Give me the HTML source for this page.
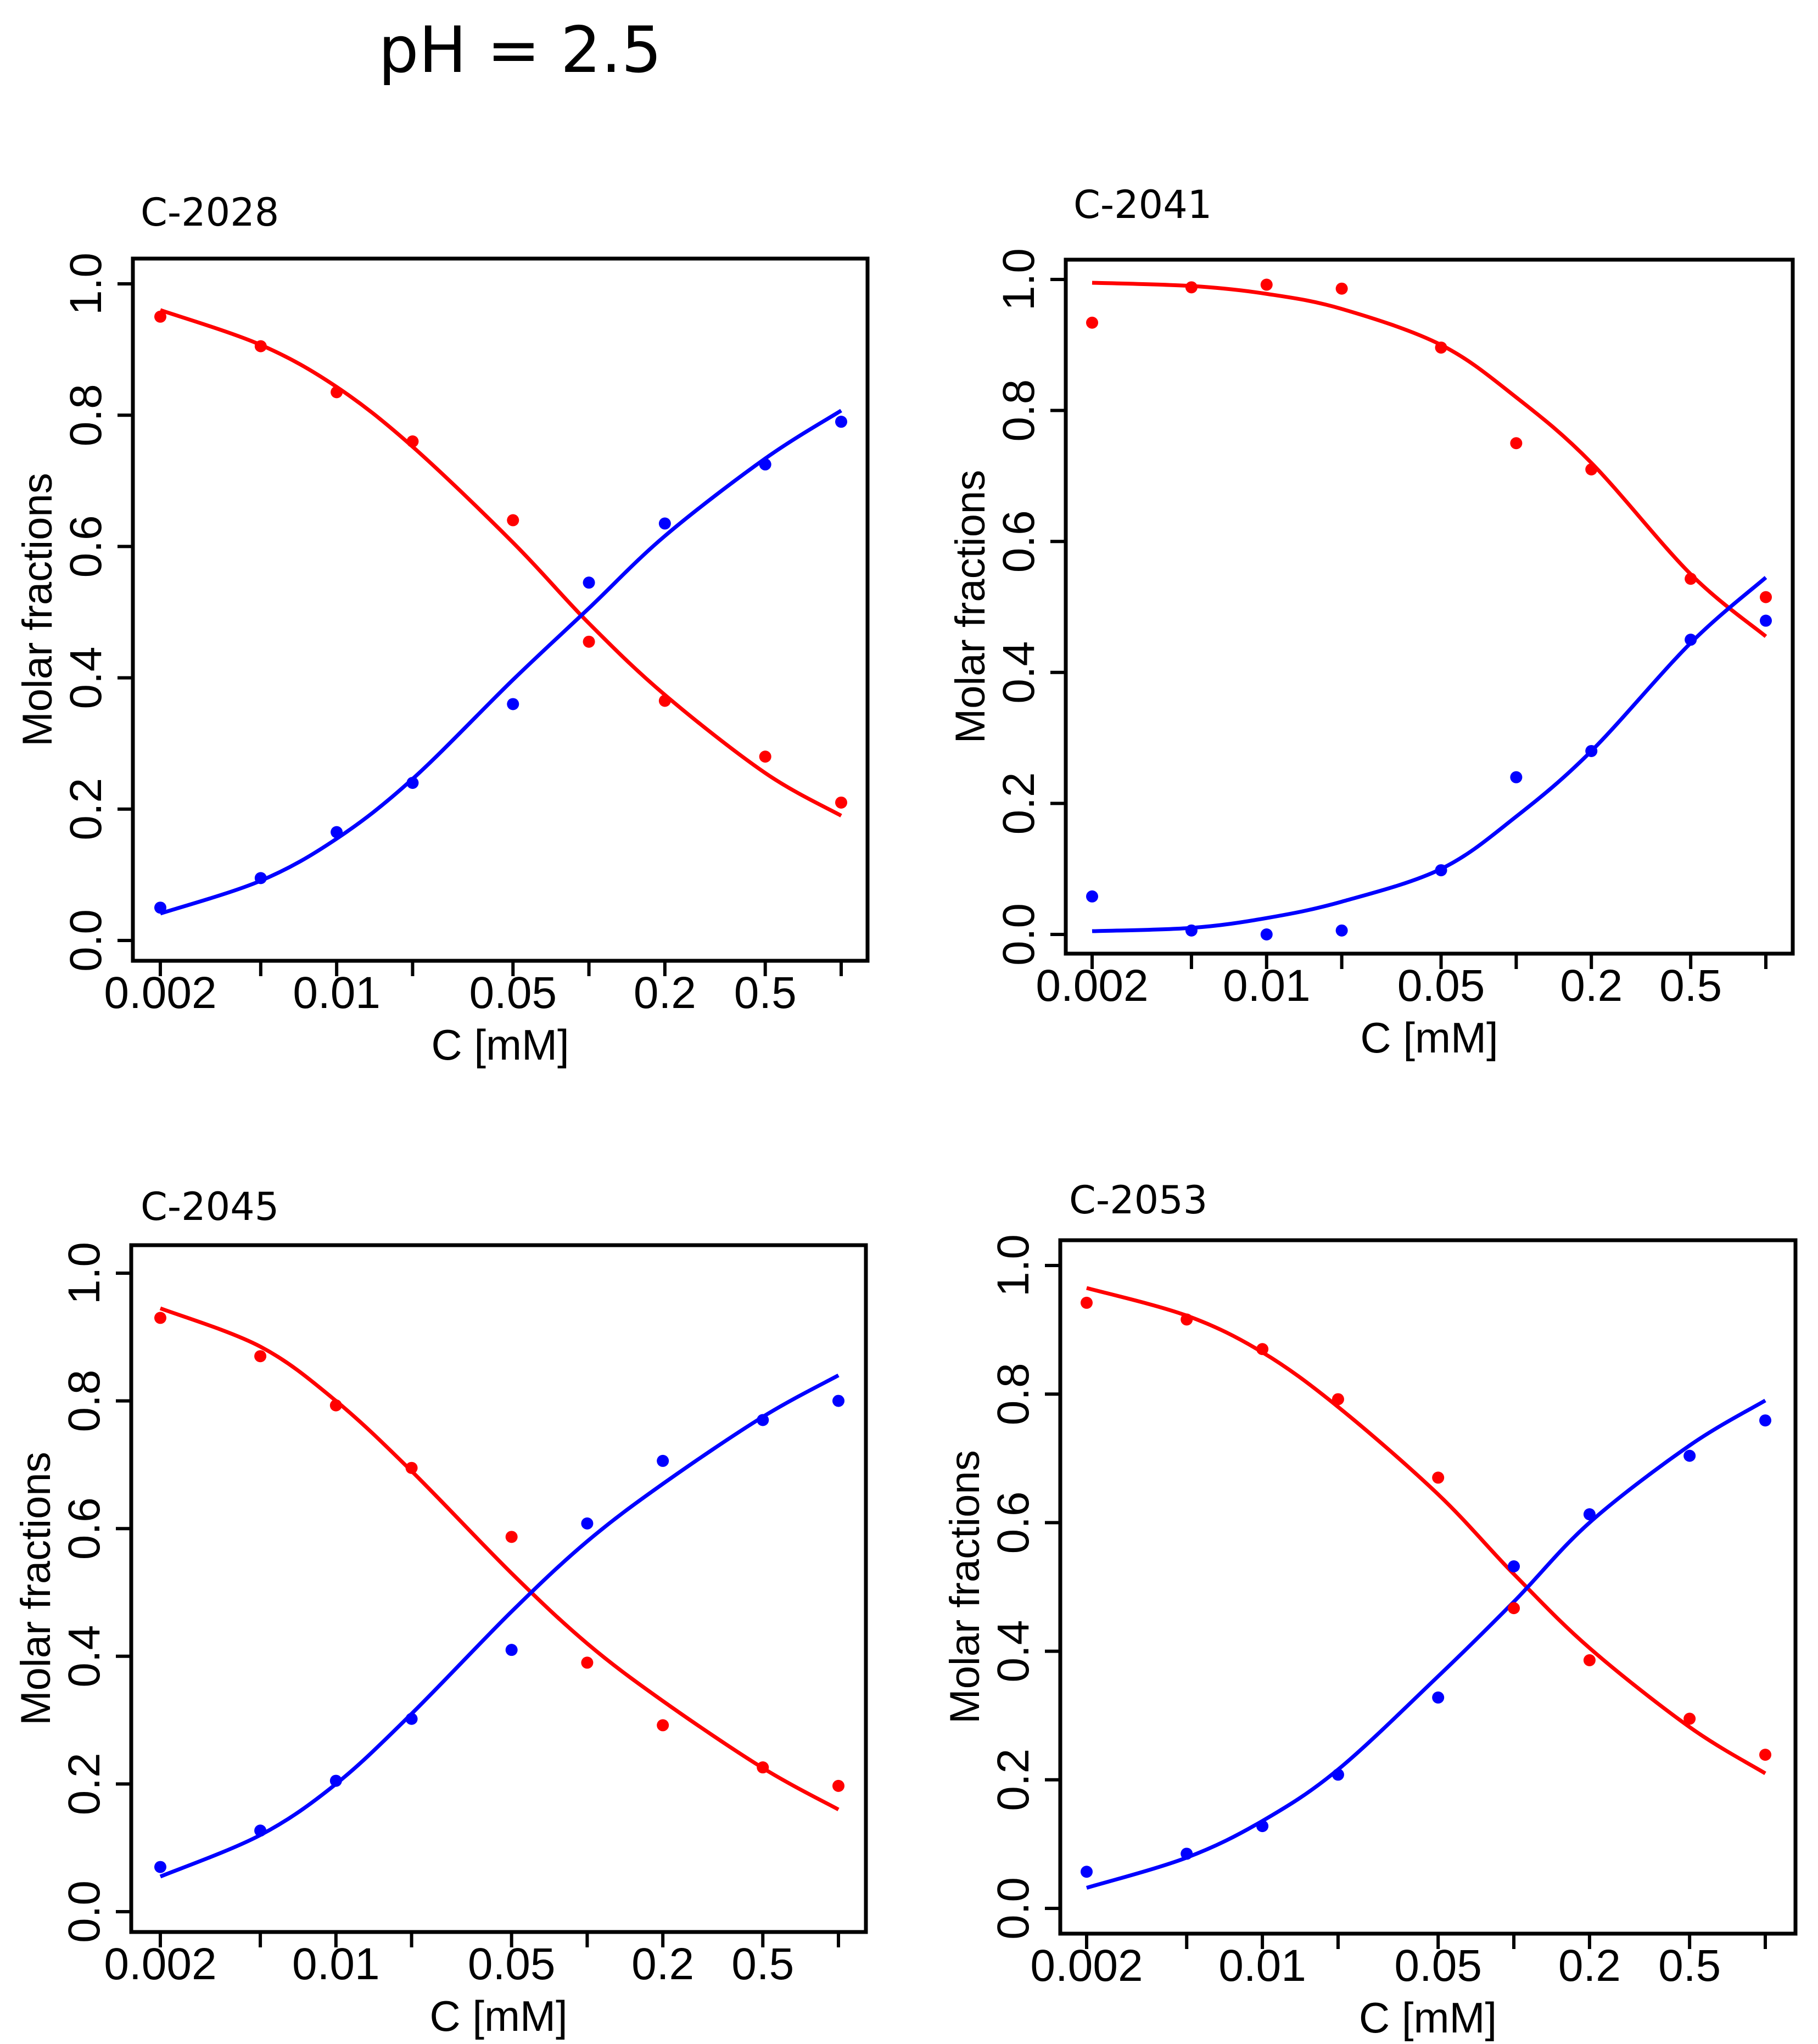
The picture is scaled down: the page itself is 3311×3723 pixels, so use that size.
<!DOCTYPE html>
<html><head><meta charset="utf-8"><style>
html,body{margin:0;padding:0;background:#fff;}
svg{display:block;}
text{font-family:"Liberation Sans",sans-serif;fill:#000;}
.ttl{font-family:"DejaVu Sans","Liberation Sans",sans-serif;}
</style></head><body>
<svg id="fig" width="3311" height="3723" viewBox="0 0 3311 3723" xmlns="http://www.w3.org/2000/svg">
<text class="ttl" x="689" y="131" font-size="116">pH = 2.5</text>
</svg>
<script>
const concentrations = [0.002, 0.005, 0.01, 0.02, 0.05, 0.1, 0.2, 0.5, 1];
const xTickLabels = ["0.002", "", "0.01", "", "0.05", "", "0.2", "0.5", ""];
const yTicks = [0, 0.2, 0.4, 0.6, 0.8, 1.0];
const yTickLabels = ["0.0", "0.2", "0.4", "0.6", "0.8", "1.0"];
const panelNames = ["C-2028", "C-2041", "C-2045", "C-2053"];

const redPts2028 = [0.95, 0.905, 0.835, 0.76, 0.64, 0.455, 0.365, 0.28, 0.21];
const bluePts2028 = [0.05, 0.095, 0.165, 0.24, 0.36, 0.545, 0.635, 0.725, 0.79];
const redFit2028 = [0.96, 0.907, 0.843, 0.752, 0.606, 0.483, 0.374, 0.255, 0.19];
const blueFit2028 = [0.041, 0.091, 0.155, 0.246, 0.397, 0.506, 0.616, 0.734, 0.807];

const redPts2041 = [0.934, 0.988, 0.992, 0.986, 0.896, 0.75, 0.71, 0.543, 0.515];
const bluePts2041 = [0.058, 0.006, 0.0, 0.006, 0.098, 0.24, 0.28, 0.45, 0.479];
const redFit2041 = [0.995, 0.99, 0.978, 0.955, 0.9, 0.82, 0.72, 0.55, 0.455];
const blueFit2041 = [0.005, 0.01, 0.025, 0.05, 0.1, 0.18, 0.28, 0.445, 0.545];

const redPts2045 = [0.93, 0.87, 0.793, 0.695, 0.587, 0.39, 0.292, 0.226, 0.197];
const bluePts2045 = [0.07, 0.127, 0.205, 0.302, 0.41, 0.608, 0.706, 0.77, 0.80];
const redFit2045 = [0.945, 0.885, 0.8, 0.69, 0.53, 0.42, 0.33, 0.225, 0.16];
const blueFit2045 = [0.055, 0.12, 0.2, 0.31, 0.47, 0.58, 0.67, 0.775, 0.84];

const redPts2053 = [0.942, 0.916, 0.870, 0.792, 0.670, 0.467, 0.386, 0.295, 0.239];
const bluePts2053 = [0.057, 0.085, 0.128, 0.208, 0.328, 0.532, 0.613, 0.704, 0.759];
const redFit2053 = [0.965, 0.922, 0.865, 0.78, 0.644, 0.52, 0.405, 0.282, 0.21];
const blueFit2053 = [0.032, 0.079, 0.136, 0.216, 0.361, 0.477, 0.60, 0.72, 0.79];

const NS = "http://www.w3.org/2000/svg";
const svg = document.getElementById("fig");
function mk(tag, attrs, parent) {
  const e = document.createElementNS(NS, tag);
  for (const k in attrs) e.setAttribute(k, attrs[k]);
  (parent || svg).appendChild(e);
  return e;
}

const layouts = [
  {L:242, T:471, R:1580, B:1750, xa:292, xb:1532, y0:1713, y1:517, lx:256, ly:411},
  {L:1941, T:473, R:3265, B:1737, xa:1989, xb:3216, y0:1702, y1:509, lx:1955, ly:397},
  {L:239, T:2268, R:1577, B:3519, xa:292, xb:1527, y0:3482, y1:2319, lx:256, ly:2222},
  {L:1931, T:2259, R:3270, B:3522, xa:1979, xb:3215, y0:3476, y1:2305, lx:1947, ly:2210}
];
const series = [
  [redPts2028, bluePts2028, redFit2028, blueFit2028],
  [redPts2041, bluePts2041, redFit2041, blueFit2041],
  [redPts2045, bluePts2045, redFit2045, blueFit2045],
  [redPts2053, bluePts2053, redFit2053, blueFit2053]
];

function curvePath(pts) {
  let d = "M" + pts[0][0] + "," + pts[0][1];
  for (let i = 0; i < pts.length - 1; i++) {
    const p0 = pts[Math.max(0, i - 1)], p1 = pts[i], p2 = pts[i + 1], p3 = pts[Math.min(pts.length - 1, i + 2)];
    const c1x = p1[0] + (p2[0] - p0[0]) / 6, c1y = p1[1] + (p2[1] - p0[1]) / 6;
    const c2x = p2[0] - (p3[0] - p1[0]) / 6, c2y = p2[1] - (p3[1] - p1[1]) / 6;
    d += " C" + c1x + "," + c1y + " " + c2x + "," + c2y + " " + p2[0] + "," + p2[1];
  }
  return d;
}

layouts.forEach((P, pi) => {
  const lmin = Math.log10(concentrations[0]), lmax = Math.log10(concentrations[concentrations.length - 1]);
  const xs = c => P.xa + (Math.log10(c) - lmin) / (lmax - lmin) * (P.xb - P.xa);
  const ys = v => P.y0 + v * (P.y1 - P.y0);
  const g = mk("g", {});
  
  

  const lab = mk("text", {x: P.lx, y: P.ly, "font-size": 70, class: "ttl"}, g);
  lab.textContent = panelNames[pi];
  
  

  const fr = mk("rect", {x: P.L, y: P.T, width: P.R - P.L, height: P.B - P.T, fill: "none", stroke: "#000", "stroke-width": 7}, g);
  
  

  const ya = mk("g", {}, g);
  
  
  yTicks.forEach((v, i) => {
    const tk = mk("line", {x1: P.L - 28, x2: P.L, y1: ys(v), y2: ys(v), stroke: "#000", "stroke-width": 6}, ya);
    
    
    const t = mk("text", {x: 0, y: 0, "font-size": 82, "text-anchor": "middle", transform: "translate(" + (P.L - 58) + "," + ys(v) + ") rotate(-90)"}, ya);
    t.textContent = yTickLabels[i];
    
    
  });
  const yt = mk("text", {x: 0, y: 0, "font-size": 76, "text-anchor": "middle", transform: "translate(" + (P.L - 148) + "," + ((P.T + P.B) / 2) + ") rotate(-90)"}, g);
  yt.textContent = "Molar fractions";
  
  

  const xa = mk("g", {}, g);
  
  
  concentrations.forEach((c, i) => {
    const tk = mk("line", {x1: xs(c), x2: xs(c), y1: P.B, y2: P.B + 28, stroke: "#000", "stroke-width": 6}, xa);
    
    
    if (xTickLabels[i]) {
      const t = mk("text", {x: xs(c), y: P.B + 86, "font-size": 82, "text-anchor": "middle"}, xa);
      t.textContent = xTickLabels[i];
      
      
    }
  });
  const xt = mk("text", {x: (P.L + P.R) / 2, y: P.B + 180, "font-size": 78, "text-anchor": "middle"}, g);
  xt.textContent = "C [mM]";
  
  

  const [rp, bp, rf, bf] = series[pi];
  const rc = mk("path", {d: curvePath(concentrations.map((c, i) => [xs(c), ys(rf[i])])), fill: "none", stroke: "#ff0000", "stroke-width": 7}, g);
  
  
  const bc = mk("path", {d: curvePath(concentrations.map((c, i) => [xs(c), ys(bf[i])])), fill: "none", stroke: "#0000ff", "stroke-width": 7}, g);
  
  
  concentrations.forEach((c, i) => {
    const r = mk("circle", {cx: xs(c), cy: ys(rp[i]), r: 11, fill: "#ff0000"}, g);
    
    
    const b = mk("circle", {cx: xs(c), cy: ys(bp[i]), r: 11, fill: "#0000ff"}, g);
    
    
  });
});
</script>
</body></html>
